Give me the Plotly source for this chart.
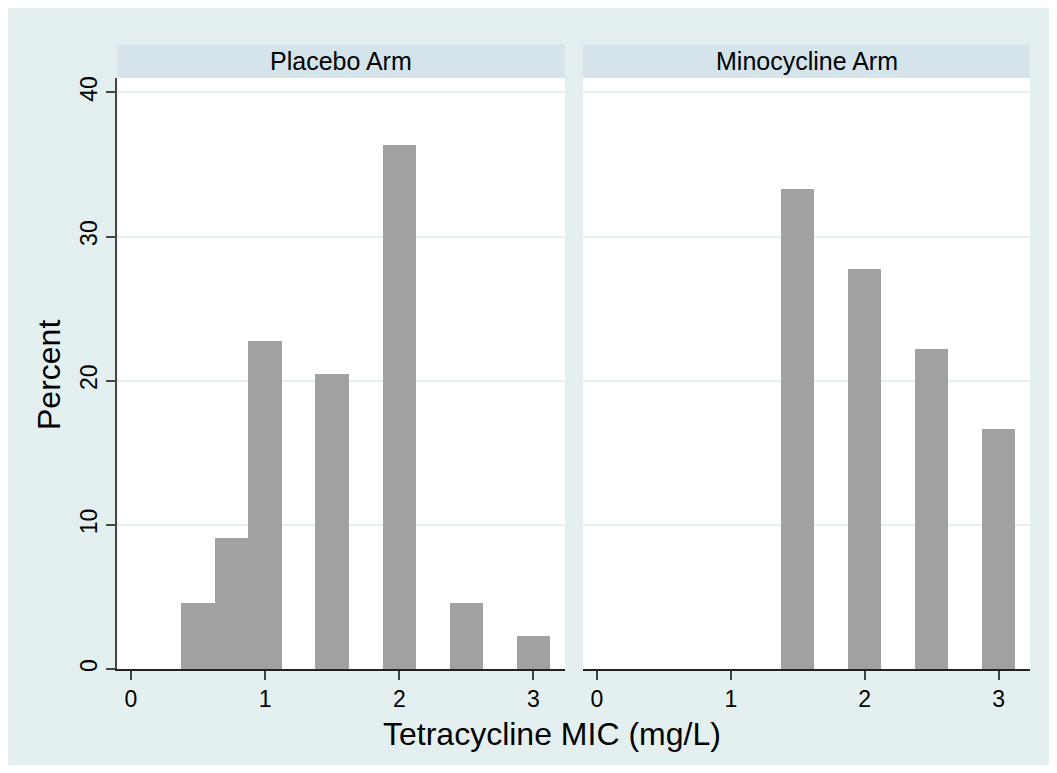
import plotly.graph_objects as go

# ---- data ----
placebo_mic = [0.5, 0.75, 1.0, 1.5, 2.0, 2.5, 3.0]
placebo_pct = [4.55, 9.09, 22.73, 20.45, 36.36, 4.55, 2.27]
mino_mic = [1.5, 2.0, 2.5, 3.0]
mino_pct = [33.33, 27.78, 22.22, 16.67]
bin_width = 0.25
panel_titles = ["Placebo Arm", "Minocycline Arm"]
x_ticks = [0, 1, 2, 3]
y_ticks = [0, 10, 20, 30, 40]

# ---- style ----
OFF = 8  # page body margin
W, H = 1049, 757
L, R, T, B = 109, 27, 70, 96
PW = W - L - R
PH = H - T - B
BG = "#e4f0f0"
STRIP = "#d4e4ea"
BAR = "#a1a1a1"
FONT = "Liberation Sans, Arial, Helvetica, sans-serif"

def px_x(p):
    # screen pixel -> paper x
    return (p - OFF - L) / PW

def px_y(p):
    # screen pixel -> paper y
    return (H - B - (p - OFF)) / PH

d1 = [0, 448 / PW]
d2 = [466 / PW, 1]

fig = go.Figure()
fig.add_trace(go.Bar(x=placebo_mic, y=placebo_pct, width=[bin_width] * len(placebo_mic),
                     marker=dict(color=BAR, line=dict(width=0)), xaxis="x", yaxis="y",
                     showlegend=False, hoverinfo="x+y"))
fig.add_trace(go.Bar(x=mino_mic, y=mino_pct, width=[bin_width] * len(mino_mic),
                     marker=dict(color=BAR, line=dict(width=0)), xaxis="x2", yaxis="y2",
                     showlegend=False, hoverinfo="x+y"))

shapes = []
for d in (d1, d2):
    shapes.append(dict(type="rect", xref="paper", yref="paper", x0=d[0], x1=d[1], y0=0, y1=1,
                       fillcolor="white", line=dict(width=0), layer="below"))
    shapes.append(dict(type="rect", xref="paper", yref="paper", x0=d[0], x1=d[1], y0=1,
                       y1=px_y(44.3), fillcolor=STRIP, line=dict(width=0), layer="below"))

annotations = []
for d, t in zip((d1, d2), panel_titles):
    annotations.append(dict(text=t, xref="paper", yref="paper", x=(d[0] + d[1]) / 2,
                            y=(1 + px_y(44.3)) / 2, xanchor="center", yanchor="middle",
                            showarrow=False, font=dict(size=25, color="black", family=FONT)))
annotations.append(dict(text="Tetracycline MIC (mg/L)", xref="paper", yref="paper",
                        x=px_x(551.5), y=px_y(734), xanchor="center", yanchor="middle",
                        showarrow=False, font=dict(size=32, color="black", family=FONT)))
annotations.append(dict(text="Percent", xref="paper", yref="paper", textangle=-90,
                        x=px_x(49), y=px_y(375), xanchor="center", yanchor="middle",
                        showarrow=False, font=dict(size=32, color="black", family=FONT)))

xcommon = dict(range=[-0.104, 3.235], tickvals=x_ticks, ticktext=[str(v) for v in x_ticks],
               showline=True, linecolor="#222", linewidth=1.5, ticks="outside", ticklen=9,
               tickwidth=1.5, tickcolor="#444", showgrid=False, zeroline=False,
               tickfont=dict(size=23, color="black", family=FONT))
ycommon = dict(range=[0, 41], tickvals=y_ticks, showgrid=True, gridcolor=BG, gridwidth=2,
               zeroline=False)

fig.update_layout(
    width=W, height=H,
    margin=dict(l=L, r=R, t=T, b=B),
    paper_bgcolor=BG,
    plot_bgcolor="rgba(0,0,0,0)",
    bargap=0,
    font=dict(family=FONT, color="black"),
    shapes=shapes,
    annotations=annotations,
    xaxis=dict(xcommon, domain=d1, anchor="y"),
    xaxis2=dict(xcommon, domain=d2, anchor="y2"),
    yaxis=dict(ycommon, domain=[0, 1], anchor="x", showline=True, linecolor="#444",
               linewidth=1.5, ticks="outside", ticklen=9, tickwidth=1.5, tickcolor="#444",
               tickangle=-90, tickfont=dict(size=23, color="black", family=FONT)),
    yaxis2=dict(ycommon, domain=[0, 1], anchor="x2", matches="y", showline=False,
                ticks="", showticklabels=False),
)

fig.write_html("out.html")
